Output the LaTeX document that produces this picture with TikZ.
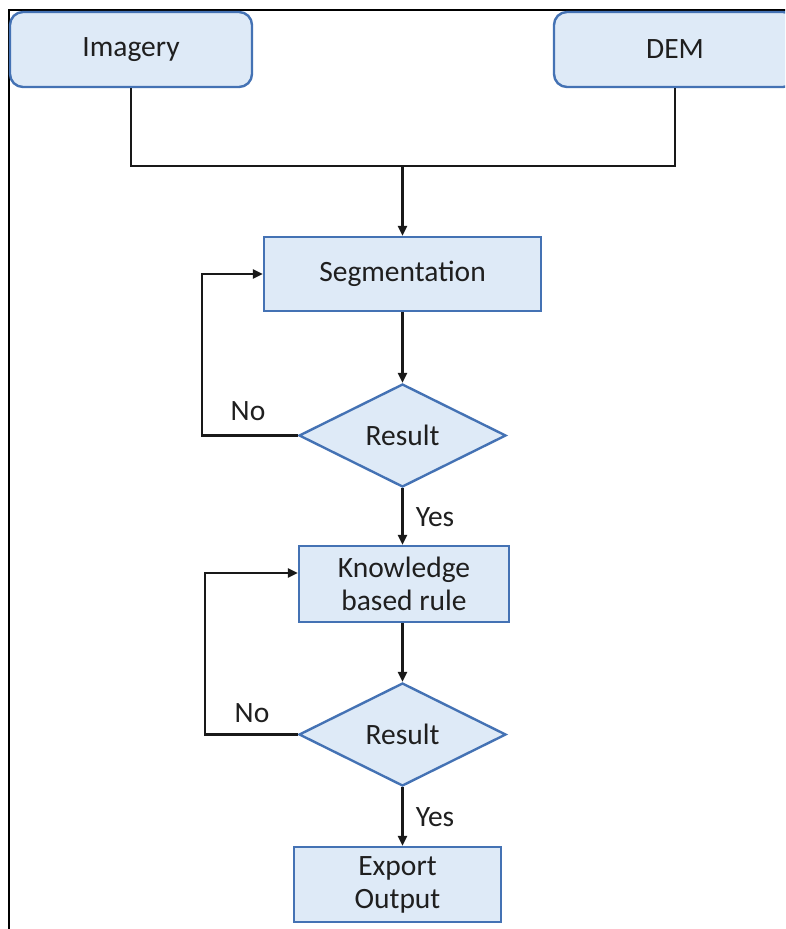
\documentclass[tikz,border=0pt]{standalone}
\usepackage{fontspec}
\setmainfont{Carlito}
\usetikzlibrary{shapes.geometric,arrows.meta}
\definecolor{boxfill}{RGB}{222,234,247}
\definecolor{boxline}{RGB}{68,114,180}
\tikzset{
  every node/.style={font=\fontsize{29.5}{36}\selectfont, text=black!88},
  procbox/.style={draw=boxline, fill=boxfill, line width=2.4pt, inner sep=0pt, align=center},
  roundbox/.style={procbox, rounded corners=13pt},
  decbox/.style={diamond, draw=boxline, fill=boxfill, line width=2.4pt, inner sep=0pt, minimum width=207pt, minimum height=103pt},
  conn/.style={draw=black!90, line width=2.4pt},
  arr/.style={conn, -{Triangle[length=10pt,width=9pt]}},
  lbl/.style={inner sep=0pt}
}
\begin{document}
\begin{tikzpicture}[x=1pt,y=-1pt]
\clip (0,0) rectangle (785,929);
\fill[white] (0,0) rectangle (785,929);
% frame
\draw[line width=2.4pt, black] (9,960) -- (9,10) -- (800,10);
% nodes
\node[roundbox, minimum width=242pt, minimum height=75pt] (img) at (131,49.5) {Imagery};
\node[roundbox, minimum width=242pt, minimum height=75pt] (dem) at (675,49.5) {DEM};
\node[procbox, minimum width=277pt, minimum height=74pt] (seg) at (402.5,274) {Segmentation};
\node[decbox] (d1) at (402.5,435.5) {Result};
\node[procbox, minimum width=210pt, minimum height=76pt] (kbr) at (404,584) {Knowledge\\[-3pt]based rule};
\node[decbox] (d2) at (402.5,734.5) {Result};
\node[procbox, minimum width=207pt, minimum height=75pt] (exp) at (397.5,884.5) {Export\\[-3pt]Output};
% merge
\coordinate (j) at (seg.north |- 0,166);
\draw[conn] (img.south) |- (j);
\draw[conn] (dem.south) |- (j);
\draw[arr] (j) -- (seg.north);
% main flow
\draw[arr] (seg.south) -- (d1.north);
\draw[arr] (d1.south) -- (kbr.north -| d1.south);
\draw[arr] (kbr.south -| d2.north) -- (d2.north);
\draw[arr] (d2.south) -- (exp.north -| d2.south);
% loops
\draw[arr] (d1.west) -- ++(-96,0) |- (seg.west);
\draw[arr] (d2.west) -- ++(-93,0) |- ([yshift=11pt]kbr.west);
% labels
\node[lbl] (no1) at (248,411) {No};
\node[lbl] (yes1) at (435,517) {Yes};
\node[lbl] (no2) at (252,713) {No};
\node[lbl] (yes2) at (435,817) {Yes};
\end{tikzpicture}
\end{document}
